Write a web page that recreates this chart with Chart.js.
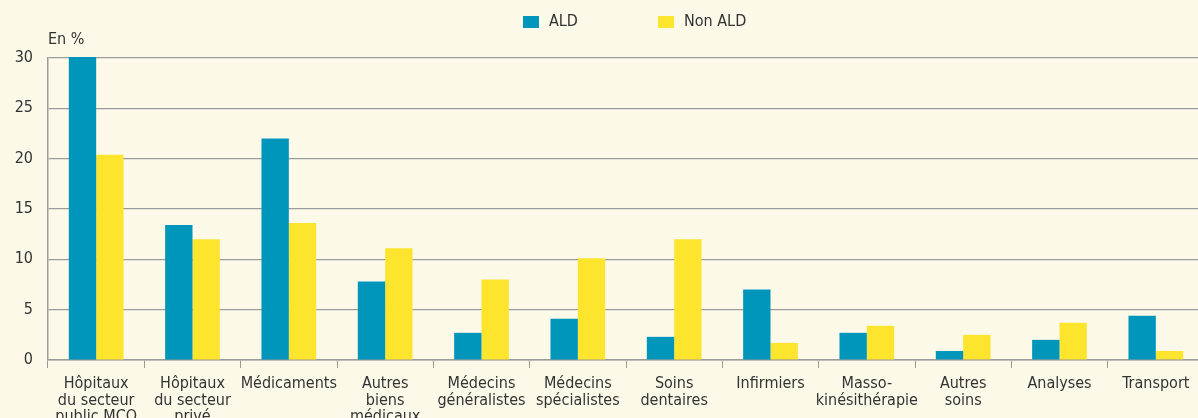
<!DOCTYPE html>
<html>
<head>
<meta charset="utf-8">
<script src="https://cdn.jsdelivr.net/npm/chart.js@4/dist/chart.umd.min.js"></script>
<style>
    html, body { margin: 0; padding: 0; background: #fcf9e9; overflow: hidden; }
    #wrap { width: 1204px; height: 418px; position: relative; }
</style>
</head>
<body>
<div id="wrap"><canvas id="chart"></canvas></div>
<script>
// ======= Data =======
const categories = [
    ['Hôpitaux', 'du secteur', 'public MCO'],
    ['Hôpitaux', 'du secteur', 'privé'],
    ['Médicaments'],
    ['Autres', 'biens', 'médicaux'],
    ['Médecins', 'généralistes'],
    ['Médecins', 'spécialistes'],
    ['Soins', 'dentaires'],
    ['Infirmiers'],
    ['Masso-', 'kinésithérapie'],
    ['Autres', 'soins'],
    ['Analyses'],
    ['Transport']
];
const aldValues    = [30.1, 13.4, 22.0, 7.8, 2.7, 4.1, 2.3, 7.0, 2.7, 0.9, 2.0, 4.4];
const nonAldValues = [20.4, 12.0, 13.6, 11.1, 8.0, 10.1, 12.0, 1.7, 3.4, 2.5, 3.7, 0.9];
const seriesLabels = ['ALD', 'Non ALD'];
const seriesColors = ['#0096bc', '#fde52e'];
const yUnit = 'En %';

const FONT = "'Liberation Sans Narrow', 'Arial Narrow', 'DejaVu Sans Condensed', sans-serif";
const TEXT = '#333333';
const GRID = '#9b9b9b';

// ======= Legend + unit label drawn on top =======
const overlayPlugin = {
    id: 'overlay',
    afterDraw(chart) {
        const ctx = chart.ctx;
        ctx.save();
        ctx.font = `16px ${FONT}`;
        ctx.fillStyle = TEXT;
        ctx.textBaseline = 'middle';

        // unit label above y axis
        ctx.textAlign = 'left';
        ctx.fillText(yUnit, chart.chartArea.left, 40);

        // legend
        const starts = [523, 658];
        chart.data.datasets.forEach((ds, i) => {
            ctx.fillStyle = ds.backgroundColor;
            ctx.fillRect(starts[i], 16, 16, 12);
            ctx.fillStyle = TEXT;
            ctx.fillText(ds.label, starts[i] + 26, 22);
        });
        ctx.restore();
    }
};

// ======= Chart =======
new Chart(document.getElementById('chart'), {
    type: 'bar',
    data: {
        labels: categories,
        datasets: [
            { label: seriesLabels[0], data: aldValues, backgroundColor: seriesColors[0], clip: false },
            { label: seriesLabels[1], data: nonAldValues, backgroundColor: seriesColors[1], clip: false }
        ]
    },
    options: {
        responsive: true,
        maintainAspectRatio: false,
        animation: false,
        layout: { padding: { top: 58, right: 0, left: 0, bottom: 0 } },
        datasets: {
            bar: { categoryPercentage: 0.568, barPercentage: 1, borderWidth: 0 }
        },
        plugins: {
            legend: { display: false },
            tooltip: { enabled: false }
        },
        scales: {
            x: {
                afterFit: axis => { axis.height = 58; },
                grid: { offset: true, drawOnChartArea: false, drawTicks: true, tickLength: 8, color: GRID },
                border: { color: GRID, width: 1.5 },
                ticks: {
                    color: TEXT,
                    font: { family: FONT, size: 16, lineHeight: 1.02 },
                    padding: 8,
                    maxRotation: 0,
                    autoSkip: false
                }
            },
            y: {
                min: 0,
                max: 30,
                afterFit: axis => { axis.width = 48; },
                grid: { color: GRID, drawTicks: false, lineWidth: 1.2 },
                border: { color: GRID, width: 1.5 },
                ticks: {
                    stepSize: 5,
                    color: TEXT,
                    font: { family: FONT, size: 16 },
                    padding: 15
                }
            }
        }
    },
    plugins: [overlayPlugin]
});
</script>
</body>
</html>
